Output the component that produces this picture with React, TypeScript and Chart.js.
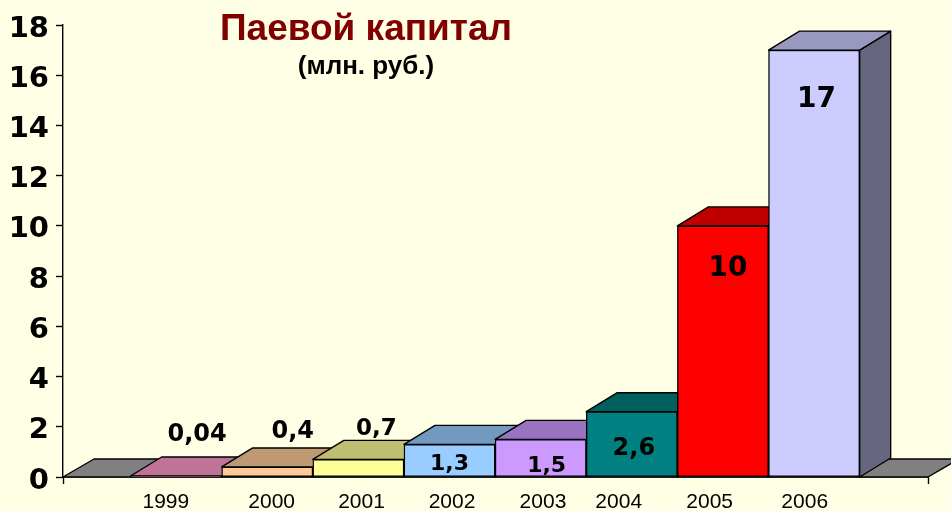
import React, { useEffect, useRef } from "react";
import { Chart, registerables } from "chart.js";

Chart.register(...registerables);

const years = [1999, 2000, 2001, 2002, 2003, 2004, 2005, 2006];
const values = [0.04, 0.4, 0.7, 1.3, 1.5, 2.6, 10, 17];
const valueLabels = ["0,04", "0,4", "0,7", "1,3", "1,5", "2,6", "10", "17"];
const frontColors = ["#FF99CC", "#FFCC99", "#FFFF99", "#99CCFF", "#CC99FF", "#008080", "#FF0000", "#CCCCFF"];
const topColors = ["#BF7399", "#BF9973", "#BFBF73", "#7399BF", "#9973BF", "#006060", "#BF0000", "#9999BF"];
const sideColors = ["#804D66", "#80664D", "#80804D", "#4D6680", "#664D80", "#004040", "#800000", "#666680"];

const titleText = "Паевой капитал";
const subtitleText = "(млн. руб.)";

// Style: where each tick label and value label sits relative to its bar
const tickShift = [-0.113, 0.048, 0.034, 0.027, 0.025, -0.144, -0.146, -0.103];
const labelDx = [21, 25.5, 18, 0, 6, 2, 5, 2.5];
const labelDy = [-41, -35, -30, 20, 27, 37, 43, 50];
const labelSize = [24, 24, 23, 22, 22, 24, 28, 28];

const BG = "#FFFFE5";
const FLOOR = "#808080";
const DEPTH_X = 31;
const DEPTH_Y = -19;
const X_MIN = 1997.7586;
const X_MAX = 2007.2497;
const Y_LABEL_DROP = 4;

function poly(ctx: CanvasRenderingContext2D, pts: number[][], fill: string) {
  ctx.beginPath();
  pts.forEach((p, i) => (i ? ctx.lineTo(p[0], p[1]) : ctx.moveTo(p[0], p[1])));
  ctx.closePath();
  ctx.fillStyle = fill;
  ctx.fill();
  ctx.strokeStyle = "#000";
  ctx.lineWidth = 1.4;
  ctx.lineJoin = "round";
  ctx.stroke();
}

const depthPlugin = {
  id: "depth",
  afterUpdate(chart: any) {
    chart.scales.y.getLabelItems().forEach((it: any) => {
      it.options.translation[1] += Y_LABEL_DROP;
    });
  },
  beforeDatasetsDraw(chart: any) {
    const { ctx, chartArea } = chart;
    const b = chartArea.bottom;
    ctx.save();
    poly(
      ctx,
      [
        [chartArea.left, b],
        [chartArea.left + DEPTH_X, b + DEPTH_Y + 1],
        [chartArea.right + DEPTH_X, b + DEPTH_Y + 1],
        [chartArea.right, b],
      ],
      FLOOR
    );
    const bars = chart.getDatasetMeta(0).data;
    bars.forEach((bar: any, i: number) => {
      const half = bar.width / 2;
      const l = bar.x - half;
      const r = bar.x + half;
      const t = bar.y;
      poly(ctx, [[r, t], [r + DEPTH_X, t + DEPTH_Y], [r + DEPTH_X, b + DEPTH_Y], [r, b]], sideColors[i]);
      poly(ctx, [[l, t], [l + DEPTH_X, t + DEPTH_Y], [r + DEPTH_X, t + DEPTH_Y], [r, t]], topColors[i]);
    });
    ctx.restore();
  },
  afterDatasetsDraw(chart: any) {
    const { ctx } = chart;
    const bars = chart.getDatasetMeta(0).data;
    ctx.save();
    ctx.fillStyle = "#000";
    ctx.textAlign = "center";
    ctx.textBaseline = "middle";
    bars.forEach((bar: any, i: number) => {
      ctx.font = `bold ${labelSize[i]}px "DejaVu Sans"`;
      ctx.fillText(valueLabels[i], bar.x + labelDx[i], bar.y + labelDy[i]);
    });
    ctx.textBaseline = "alphabetic";
    ctx.fillStyle = "#800000";
    ctx.font = 'bold 37px "Liberation Sans"';
    ctx.fillText(titleText, 366, 40);
    ctx.fillStyle = "#000";
    ctx.font = 'bold 26px "Liberation Sans"';
    ctx.fillText(subtitleText, 366, 74);
    ctx.restore();
  },
};

export default function App() {
  const ref = useRef<HTMLCanvasElement>(null);
  useEffect(() => {
    document.body.style.margin = "0";
    document.body.style.background = BG;
    const chart = new Chart(ref.current as HTMLCanvasElement, {
      type: "bar",
      data: {
        datasets: [
          {
            data: years.map((y, i) => ({ x: y, y: values[i] })),
            backgroundColor: frontColors,
            borderColor: "#000",
            borderWidth: 1.4,
            borderSkipped: false,
            barThickness: 91.14,
          },
        ],
      },
      plugins: [depthPlugin],
      options: {
        animation: false,
        responsive: false,
        layout: { padding: { left: 0, top: 25, right: 23, bottom: 0 } },
        plugins: { legend: { display: false }, title: { display: false }, tooltip: { enabled: false } },
        scales: {
          x: {
            type: "linear",
            offset: false,
            min: X_MIN,
            max: X_MAX,
            bounds: "data",
            afterBuildTicks(scale: any) {
              scale.ticks = [
                { value: X_MIN },
                ...years.map((y, i) => ({ value: y + tickShift[i] })),
                { value: X_MAX },
              ];
            },
            afterFit(scale: any) {
              scale.height = 34;
            },
            border: { color: "#000", width: 1.4 },
            grid: {
              drawOnChartArea: false,
              offset: false,
              tickLength: 7,
              tickWidth: 1.4,
              tickColor: (c: any) => (c.index === 0 || c.index === years.length + 1 ? "#000" : "rgba(0,0,0,0)"),
            },
            ticks: {
              autoSkip: false,
              maxRotation: 0,
              padding: 6,
              color: "#000",
              font: { family: '"Liberation Sans"', size: 21 },
              callback: (_v: any, i: number) => (i === 0 || i === years.length + 1 ? "" : String(years[i - 1])),
            },
          },
          y: {
            min: 0,
            max: 18,
            afterFit(scale: any) {
              scale.width = 63;
            },
            border: { color: "#000", width: 1.4 },
            grid: { drawOnChartArea: false, tickLength: 7, tickWidth: 1.4, tickColor: "#000" },
            ticks: {
              stepSize: 2,
              padding: 7,
              color: "#000",
              font: { family: '"DejaVu Sans"', size: 29, weight: "bold" },
            },
          },
        },
      },
    } as any);
    return () => chart.destroy();
  }, []);
  return (
    <div style={{ position: "absolute", left: 0, top: 0, width: 951, height: 511, background: BG, overflow: "hidden" }}>
      <canvas ref={ref} width={951} height={511} style={{ display: "block" }} />
    </div>
  );
}
